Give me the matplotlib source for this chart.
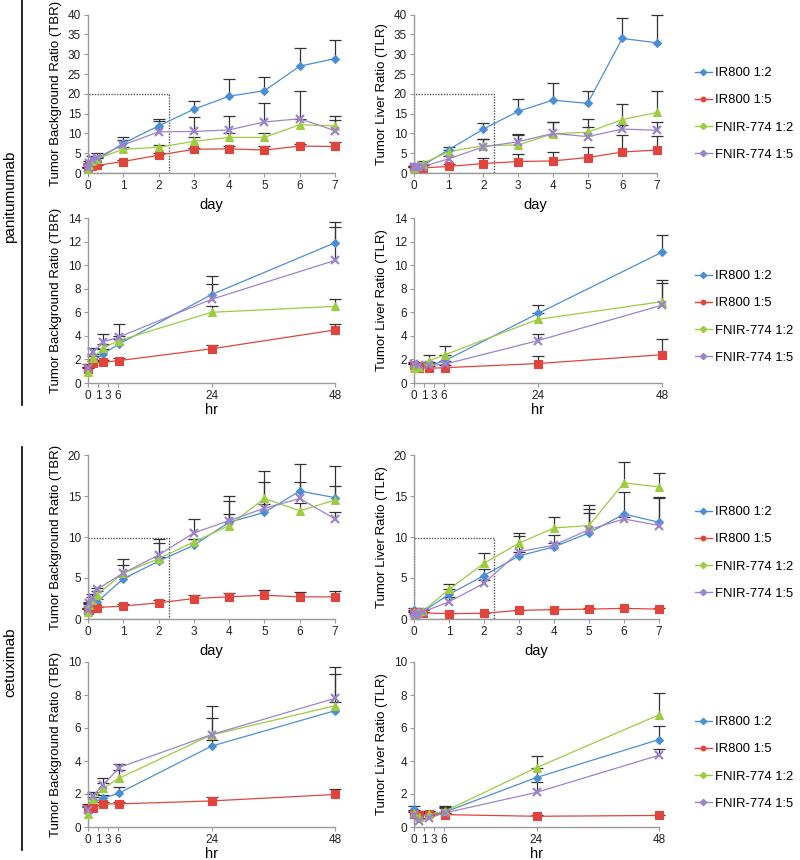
import matplotlib
matplotlib.use('Agg')
import matplotlib.pyplot as plt
from matplotlib.lines import Line2D
from matplotlib.patches import Rectangle
import numpy as np

plt.rcParams['font.family'] = ['Liberation Sans', 'DejaVu Sans']

# ---------------- data ----------------
hours = [0, 1, 3, 6, 24, 48]
later_days = [3, 4, 5, 6, 7]
series = ['IR800 1:2', 'IR800 1:5', 'FNIR-774 1:2', 'FNIR-774 1:5']
hr_tick_labels = ['0', '1', '3', '6', '24', '48']

# values at 0h,1h,3h,6h,24h,48h, then day 3..7
pan_tbr = {
    'IR800 1:2':    [1.1, 1.8, 2.5, 3.3, 7.5, 11.9, 16.1, 19.4, 20.8, 27.0, 28.9],
    'IR800 1:5':    [1.2, 1.7, 1.75, 1.9, 2.9, 4.5, 6.0, 6.1, 5.8, 6.8, 6.7],
    'FNIR-774 1:2': [0.95, 2.1, 3.0, 3.6, 6.0, 6.5, 8.0, 9.0, 9.0, 12.2, 11.9],
    'FNIR-774 1:5': [1.3, 2.6, 3.5, 3.9, 7.1, 10.4, 10.5, 10.9, 12.9, 13.7, 10.7],
}
pan_tbr_err = {
    'IR800 1:2':    [0.3, 0.5, 0.4, 0.4, 1.6, 1.8, 2.1, 4.4, 3.4, 4.7, 4.6],
    'IR800 1:5':    [0.2, 0.2, 0.2, 0.2, 0.3, 0.5, 0.3, 0.8, 1.1, 0.6, 1.2],
    'FNIR-774 1:2': [0.3, 0.4, 0.3, 0.4, 0.5, 0.6, 1.0, 1.0, 1.0, 1.5, 1.5],
    'FNIR-774 1:5': [0.3, 0.4, 0.7, 1.1, 1.3, 2.8, 3.6, 3.4, 4.8, 7.1, 3.6],
}
pan_tlr = {
    'IR800 1:2':    [1.3, 1.3, 1.5, 1.9, 5.9, 11.1, 15.6, 18.4, 17.6, 34.0, 32.9],
    'IR800 1:5':    [1.5, 1.3, 1.25, 1.3, 1.65, 2.4, 2.9, 3.05, 3.9, 5.3, 5.8],
    'FNIR-774 1:2': [1.3, 1.4, 1.9, 2.4, 5.4, 6.9, 7.1, 9.9, 10.3, 13.5, 15.3],
    'FNIR-774 1:5': [1.6, 1.5, 1.5, 1.6, 3.6, 6.6, 7.9, 10.0, 9.2, 11.1, 10.8],
}
pan_tlr_err = {
    'IR800 1:2':    [0.3, 0.2, 0.3, 0.5, 0.7, 1.5, 3.2, 4.4, 3.2, 5.2, 7.1],
    'IR800 1:5':    [0.2, 0.2, 0.2, 0.2, 0.6, 1.3, 1.9, 2.2, 2.6, 4.2, 3.5],
    'FNIR-774 1:2': [0.3, 0.3, 0.5, 0.7, 0.5, 1.8, 2.5, 3.1, 3.4, 3.9, 5.4],
    'FNIR-774 1:5': [0.2, 0.2, 0.2, 0.3, 0.6, 1.9, 1.9, 3.0, 2.3, 1.0, 2.2],
}
cet_tbr = {
    'IR800 1:2':    [1.1, 1.5, 1.75, 2.05, 4.9, 7.05, 9.0, 11.8, 13.0, 15.6, 14.8],
    'IR800 1:5':    [1.1, 1.15, 1.4, 1.4, 1.58, 1.97, 2.5, 2.7, 2.9, 2.7, 2.7],
    'FNIR-774 1:2': [0.8, 1.7, 2.35, 2.95, 5.58, 7.35, 9.4, 11.4, 14.7, 13.2, 14.5],
    'FNIR-774 1:5': [1.05, 1.9, 2.55, 3.6, 5.6, 7.8, 10.5, 12.0, 13.5, 14.7, 12.2],
}
cet_tbr_err = {
    'IR800 1:2':    [0.3, 0.3, 0.2, 0.35, 0.4, 0.5, 0.8, 1.0, 1.0, 3.3, 3.8],
    'IR800 1:5':    [0.2, 0.2, 0.1, 0.1, 0.22, 0.33, 0.4, 0.5, 0.65, 0.6, 0.7],
    'FNIR-774 1:2': [0.4, 0.3, 0.3, 0.5, 1.0, 1.95, 0.4, 3.0, 3.4, 1.0, 1.7],
    'FNIR-774 1:5': [0.2, 0.2, 0.45, 0.2, 1.75, 1.9, 1.7, 3.0, 3.2, 2.0, 0.8],
}
cet_tlr = {
    'IR800 1:2':    [1.1, 0.65, 0.75, 0.9, 3.0, 5.3, 7.7, 8.8, 10.5, 12.8, 11.8],
    'IR800 1:5':    [0.8, 0.7, 0.8, 0.75, 0.65, 0.7, 1.05, 1.15, 1.2, 1.3, 1.2],
    'FNIR-774 1:2': [0.85, 0.6, 0.8, 0.95, 3.6, 6.8, 9.25, 11.1, 11.4, 16.6, 16.1],
    'FNIR-774 1:5': [0.75, 0.35, 0.55, 0.85, 2.1, 4.35, 8.2, 9.0, 10.9, 12.2, 11.4],
}
cet_tlr_err = {
    'IR800 1:2':    [0.2, 0.2, 0.2, 0.3, 0.6, 0.85, 0.5, 0.5, 2.9, 2.7, 3.1],
    'IR800 1:5':    [0.1, 0.1, 0.1, 0.1, 0.05, 0.05, 0.1, 0.1, 0.1, 0.1, 0.1],
    'FNIR-774 1:2': [0.2, 0.2, 0.2, 0.3, 0.7, 1.3, 1.25, 1.4, 2.5, 2.6, 1.7],
    'FNIR-774 1:5': [0.2, 0.2, 0.2, 0.3, 0.6, 0.4, 1.9, 1.3, 2.0, 0.3, 3.4],
}

# ---------------- styles ----------------
colors = {'IR800 1:2': '#4a8fd6', 'IR800 1:5': '#e0443c',
          'FNIR-774 1:2': '#9dcc3e', 'FNIR-774 1:5': '#9c84cc'}
markers = {'IR800 1:2': ('D', 4.5, 0.8), 'IR800 1:5': ('s', 6.0, 0.8),
           'FNIR-774 1:2': ('^', 6.0, 0.8), 'FNIR-774 1:5': ('x', 6.0, 1.6)}
err_color = '#333333'
spine_color = '#9a9a9a'

W, H = 800, 860
fig = plt.figure(figsize=(W / 100, H / 100), dpi=100)


def rect(x0, x1, ytop, ybot):
    return [x0 / W, 1 - ybot / H, (x1 - x0) / W, (ybot - ytop) / H]


day_x = [h / 24 for h in hours] + later_days


def draw(ax, data, err, mode, ymax, ystep, ylabel, box):
    n = len(hours)
    for s in series:
        y = np.array(data[s])
        e = np.array(err[s])
        if mode == 'day':
            x = np.array(day_x)
        else:
            x = np.array(hours, dtype=float)
            y = y[:n]
            e = e[:n]
        c = colors[s]
        m, ms, mew = markers[s]
        ax.vlines(x, y, y + e, color=err_color, lw=0.9, zorder=2, clip_on=False)
        ax.plot(x, y + e, ls='none', marker='_', ms=9, mew=0.9,
                color=err_color, zorder=2, clip_on=False)
        ax.plot(x, y, color=c, lw=0.9, zorder=3, clip_on=False)
        ax.plot(x, y, ls='none', marker=m, ms=ms, mew=mew, color=c,
                mec=c, zorder=4, clip_on=False)
    ax.set_ylim(0, ymax)
    ax.set_yticks(np.arange(0, ymax + 0.01, ystep))
    if mode == 'day':
        ax.set_xlim(0, 7)
        ax.set_xticks(range(8))
        ax.set_xlabel('day', fontsize=10.5, labelpad=4)
        ax.add_patch(Rectangle((0, 0), 2.3, box, fill=False, ls=(0, (1, 1)),
                               lw=1.0, ec='#555555', zorder=1))
    else:
        ax.set_xlim(0, 48)
        ax.set_xticks([0, 1.95, 3.9, 5.8, 24, 48])
        ax.set_xticklabels(hr_tick_labels)
        ax.set_xlabel('hr', fontsize=10.5, labelpad=1)
    ax.set_ylabel(ylabel, fontsize=9.5, labelpad=4)
    for sp in ['top', 'right']:
        ax.spines[sp].set_visible(False)
    for sp in ['left', 'bottom']:
        ax.spines[sp].set_color(spine_color)
        ax.spines[sp].set_linewidth(1.0)
    ax.tick_params(axis='both', colors=spine_color, labelcolor='#222222',
                   labelsize=8.5, length=3, width=0.8, pad=2)


tbr = 'Tumor Background Ratio (TBR)'
tlr = 'Tumor Liver Ratio (TLR)'

panels = [
    (rect(88, 335, 14.7, 173), pan_tbr, pan_tbr_err, 'day', 40, 5, tbr, 20),
    (rect(414, 657, 14.7, 173), pan_tlr, pan_tlr_err, 'day', 40, 5, tlr, 20),
    (rect(88, 335, 218, 383), pan_tbr, pan_tbr_err, 'hr', 14, 2, tbr, None),
    (rect(414, 662, 218, 383), pan_tlr, pan_tlr_err, 'hr', 14, 2, tlr, None),
    (rect(88, 335, 455, 619), cet_tbr, cet_tbr_err, 'day', 20, 5, tbr, 9.9),
    (rect(414, 659, 455, 619), cet_tlr, cet_tlr_err, 'day', 20, 5, tlr, 9.9),
    (rect(88, 335, 662, 827), cet_tbr, cet_tbr_err, 'hr', 10, 2, tbr, None),
    (rect(414, 659, 662, 827), cet_tlr, cet_tlr_err, 'hr', 10, 2, tlr, None),
]
for r, d, e, mode, ymax, ystep, yl, box in panels:
    ax = fig.add_axes(r)
    draw(ax, d, e, mode, ymax, ystep, yl, box)

# legends (one per row)
handles = []
for s in series:
    handles.append(Line2D([0], [0], color=colors[s], lw=1.0,
                          marker='D' if s != 'IR800 1:5' else 'o',
                          ms=3.2, mec=colors[s], mfc=colors[s]))
for yc in [114, 317, 553, 763]:
    fig.legend(handles, series, loc='center left',
               bbox_to_anchor=(695 / W, 1 - yc / H), frameon=False,
               fontsize=9.4, labelspacing=1.15, handlelength=1.3,
               handletextpad=0.25, borderaxespad=0, borderpad=0)

# group labels
fig.add_artist(Line2D([22 / W, 22 / W], [1 - 0 / H, 1 - 405 / H], color='black', lw=1.2))
fig.add_artist(Line2D([22 / W, 22 / W], [1 - 447 / H, 1 - 850 / H], color='black', lw=1.2))
fig.text(10 / W, 1 - 197 / H, 'panitumumab', rotation=90, ha='center', va='center', fontsize=11)
fig.text(10 / W, 1 - 662 / H, 'cetuximab', rotation=90, ha='center', va='center', fontsize=11)

fig.savefig('out.png', dpi=100, facecolor='white')
